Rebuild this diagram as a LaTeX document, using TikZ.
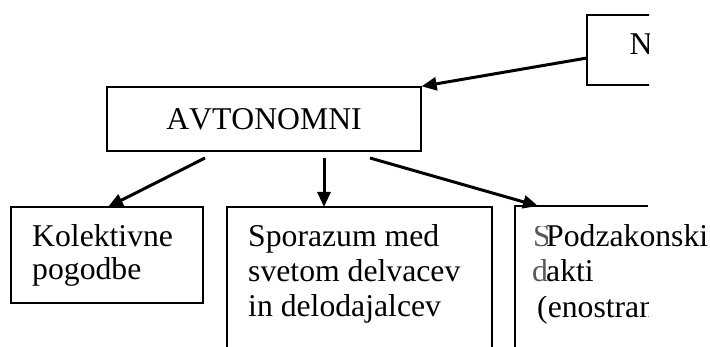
\documentclass[tikz,border=0pt]{standalone}
\usepackage{fontspec}
\setmainfont{Liberation Serif}[Kerning=Off]
\usetikzlibrary{arrows.meta}
\begin{document}
\begin{tikzpicture}[x=1pt,y=1pt,
  boxline/.style={line width=1.3pt},
  conn/.style={line width=3pt,-{Triangle[length=15pt,width=13pt]}},
  txt/.style={anchor=base west,inner sep=0pt,font=\fontsize{31.7}{35}\selectfont},
  lowtxt/.style={txt,text=black!65}]
\useasboundingbox (0,0) rectangle (710,347);
% AVTONOMNI box
\node[draw,boxline,minimum width=314pt,minimum height=64pt,inner sep=0pt,
      font=\fontsize{31.7}{35}\selectfont] (avt) at (264,228) {AVTONOMNI};
% N box (clipped)
\begin{scope}
  \clip (560,0) rectangle (649,347);
  \draw[boxline] (660,332) -- (587,332) -- (587,262) -- (660,262);
  \node[txt] (ntxt) at (629.5,292) {N};
\end{scope}
\coordinate (nw) at (587,289);
% Kolektivne box
\node[draw,boxline,minimum width=192pt,minimum height=96pt,inner sep=0pt] (kol) at (107,92) {};
\node[txt] (k1) at (32,100) {Kolektivne};
\node[txt] (k2) at (32,67) {pogodbe};
% Sporazum box (open at bottom)
\draw[boxline] (227,-5) -- (227,140) -- (492,140) -- (492,-5);
\coordinate (spotop) at (324,140);
\node[txt] (s1) at (248,100) {Sporazum med};
\node[txt] (s2) at (248,65) {svetom delvacev};
\node[txt] (s3) at (248,30) {in delodajalcev};
% Podzakonski box (clipped)
\draw[boxline] (515,-5) -- (515,141) -- (648,141);
\coordinate (podtop) at (538,141);
\begin{scope}
  \clip (530,0) rectangle (547,120);
  \node[lowtxt] (p0) at (533,100) {S};
  \node[lowtxt] (d0) at (532,65) {d};
\end{scope}
\node[txt] (p1) at (546,100) {Podzakonski};
\node[txt] (p2) at (546,65) {akti};
\begin{scope}
  \clip (530,0) rectangle (648,50);
  \node[txt] (p3) at (537,29) {(enostranski};
\end{scope}
% connectors
\coordinate (a2s) at (205,189);
\coordinate (a3s) at (324,189);
\coordinate (a4s) at (370,189);
\coordinate (koltop) at (108,140);
\draw[conn] (nw) -- (avt.north east);
\draw[conn] (a2s) -- (koltop);
\draw[conn] (a3s) -- (spotop);
\draw[conn] (a4s) -- (podtop);
\end{tikzpicture}
\end{document}
